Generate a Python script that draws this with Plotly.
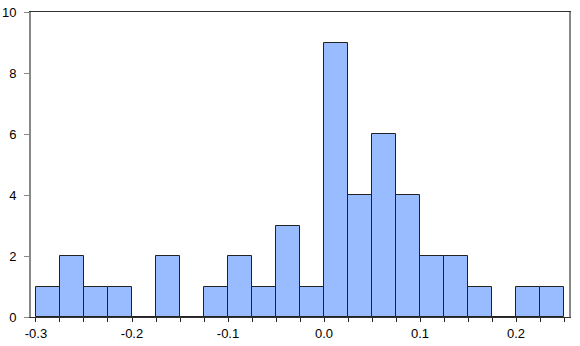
import plotly.graph_objects as go

bin_starts = [-0.3, -0.275, -0.25, -0.225, -0.2, -0.175, -0.15, -0.125, -0.1, -0.075, -0.05,
              -0.025, 0.0, 0.025, 0.05, 0.075, 0.1, 0.125, 0.15, 0.175, 0.2, 0.225]
counts = [1, 2, 1, 1, 0, 2, 0, 1, 2, 1, 3, 1, 9, 4, 6, 4, 2, 2, 1, 0, 1, 1]
bin_width = 0.025

x_tickvals = [round(-0.3 + i * 0.025, 3) for i in range(23)]
x_ticktext = {-0.3: "-0.3", -0.2: "-0.2", -0.1: "-0.1", 0.0: "0.0", 0.1: "0.1", 0.2: "0.2"}
y_tickvals = [0, 2, 4, 6, 8, 10]

centers = [s + bin_width / 2 for s in bin_starts]

fig = go.Figure(go.Bar(
    x=centers, y=counts, width=[bin_width] * len(counts),
    marker=dict(color="#99BBFF", line=dict(color="#222222", width=1)),
))

fig.update_layout(
    width=580, height=346,
    margin=dict(l=31, r=11, t=12, b=29),
    paper_bgcolor="white", plot_bgcolor="white",
    font=dict(family="Liberation Sans, Arial, sans-serif", size=13, color="#000000"),
    showlegend=False,
    bargap=0,
)
fig.update_xaxes(
    range=[-0.3052, 0.2552],
    tickvals=x_tickvals,
    ticktext=[x_ticktext.get(v, "") for v in x_tickvals],
    ticks="outside", ticklen=4, tickcolor="#222222",
    showline=True, linecolor="#333333", linewidth=1, mirror=True,
    showgrid=False, zeroline=False, automargin=False,
)
fig.update_yaxes(
    range=[0, 10],
    tickvals=y_tickvals,
    ticks="outside", ticklen=5, tickcolor="#888888",
    ticklabelstandoff=5,
    showline=True, linecolor="#888888", linewidth=2, mirror=True,
    showgrid=False, zeroline=False, automargin=False,
)
fig.write_html("out.html")
